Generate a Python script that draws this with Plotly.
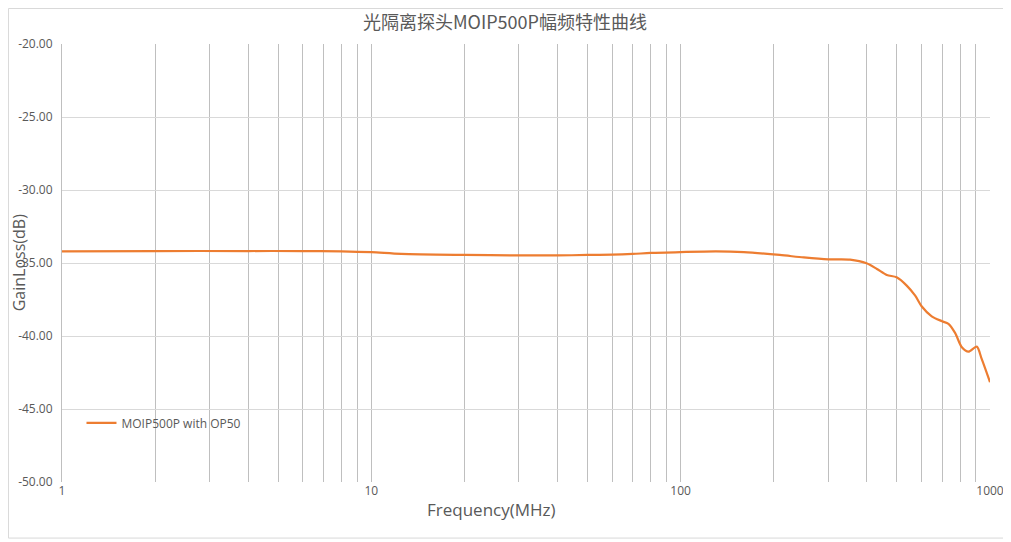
import plotly.graph_objects as go

# frequency response
freq_mhz = [1, 2, 4, 6, 8, 10, 12.5, 20, 30, 40, 50, 60, 70, 80, 100, 130, 160, 209,
            250, 300, 353, 399, 431, 464, 499, 538, 573, 601, 648, 700, 734, 771,
            811, 852, 906, 940, 1000]
gain_db = [-34.20, -34.18, -34.18, -34.18, -34.20, -34.26, -34.38, -34.45, -34.48, -34.48,
           -34.45, -34.43, -34.38, -34.31, -34.25, -34.20, -34.25, -34.45,
           -34.62, -34.75, -34.77, -35.02, -35.41, -35.82, -35.98, -36.55, -37.24,
           -37.96, -38.65, -38.99, -39.17, -39.79, -40.77, -41.07, -40.73, -41.57, -43.16]

major_x = [1, 10, 100, 1000]
minor_x = [m * d for d in (1, 10, 100) for m in range(2, 10)]
y_ticks = [-50, -45, -40, -35, -30, -25, -20]

grey_txt = "#595959"
font_fam = "Open Sans, Noto Sans CJK SC, sans-serif"

fig = go.Figure()
fig.add_trace(go.Scatter(
    x=freq_mhz, y=gain_db, mode="lines", name="MOIP500P with OP50",
    line=dict(color="#ed7d31", width=2.2, shape="spline", smoothing=0.8),
))

# the page body adds 8px, so the figure is a bit smaller than the window
fig.update_layout(
    width=1003, height=534,
    margin=dict(l=54, r=21, t=36, b=60, autoexpand=False),
    paper_bgcolor="white", plot_bgcolor="white",
    font=dict(family=font_fam, color=grey_txt, size=12),
    title=dict(text="光隔离探头MOIP500P幅频特性曲线", x=0.4955, xanchor="center",
               y=0.972, yanchor="middle",
               font=dict(family="Noto Sans CJK SC, sans-serif", size=18, color=grey_txt)),
    showlegend=True,
    legend=dict(x=0.021, y=0.135, xanchor="left", yanchor="middle",
                bgcolor="rgba(0,0,0,0)", font=dict(size=12, color=grey_txt)),
    xaxis=dict(
        type="log", range=[0, 3], tickmode="array", tickvals=major_x,
        ticktext=[str(v) for v in major_x], automargin=False,
        showgrid=True, gridcolor="#bfbfbf", gridwidth=1,
        minor=dict(tickmode="array", tickvals=minor_x, showgrid=True,
                   gridcolor="#bfbfbf", gridwidth=1, ticks=""),
        showline=False, zeroline=False, ticks="",
        tickfont=dict(size=12, color=grey_txt),
    ),
    yaxis=dict(
        range=[-50, -20], tickmode="array", tickvals=y_ticks,
        ticktext=[f"{v:.2f}" for v in y_ticks], automargin=False,
        showgrid=True, gridcolor="#d9d9d9", gridwidth=1,
        showline=True, linecolor="#bfbfbf", linewidth=1,
        zeroline=False, ticks="", ticklabelstandoff=6,
        tickfont=dict(size=12, color=grey_txt),
    ),
)

# axis titles placed like the source (x title sits left of centre)
fig.add_annotation(text="Frequency(MHz)", xref="paper", yref="paper", x=0.463, y=-0.062,
                   showarrow=False, xanchor="center", yanchor="middle",
                   font=dict(size=17, color=grey_txt))
fig.add_annotation(text="GainLoss(dB)", xref="paper", yref="paper", x=-0.046, y=0.5,
                   showarrow=False, textangle=-90, xanchor="center", yanchor="middle",
                   font=dict(size=16, color=grey_txt))

# light outer chart border like the source
fig.add_shape(type="rect", xref="paper", yref="paper", x0=-0.0577, x1=1.0216, y0=-0.128,
              y1=1.081, line=dict(color="#d9d9d9", width=1), layer="below")

fig.write_html("out.html")
